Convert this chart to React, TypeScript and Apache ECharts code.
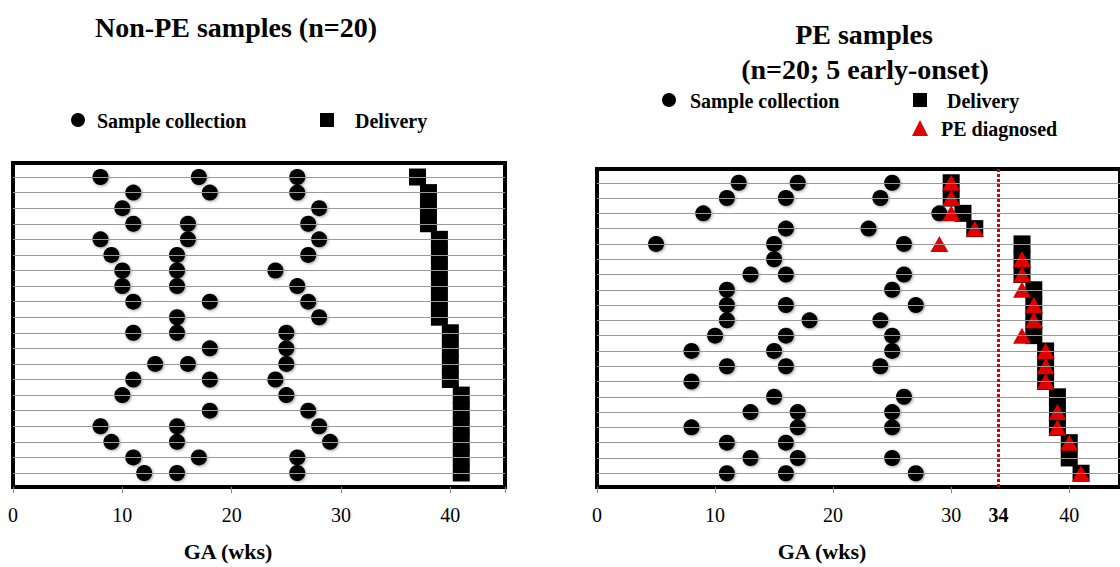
import { useEffect, useRef } from "react";
import * as echarts from "echarts";

// GA (weeks) of sample collections per subject row (row 1 = top)
const nonPeCollection = [
  [8, 17, 26], [11, 18, 26], [10, 28], [11, 16, 27], [8, 16, 28],
  [9, 15, 27], [10, 15, 24], [10, 15, 26], [11, 18, 27], [15, 28],
  [11, 15, 25], [18, 25], [13, 16, 25], [11, 18, 24], [10, 25],
  [18, 27], [8, 15, 28], [9, 15, 29], [11, 17, 26], [12, 15, 26],
];
const nonPeDelivery = [37, 38, 38, 38, 39, 39, 39, 39, 39, 39, 40, 40, 40, 40, 41, 41, 41, 41, 41, 41];

const peCollection = [
  [12, 17, 25], [11, 16, 24], [9, 29], [16, 23], [5, 15, 26],
  [15], [13, 16, 26], [11, 25], [11, 16, 27], [11, 18, 24],
  [10, 16, 25], [8, 15, 25], [11, 16, 24], [8], [15, 26],
  [13, 17, 25], [8, 17, 25], [11, 16], [13, 17, 25], [11, 16, 27],
];
const peDelivery = [30, 30, 31, 32, 36, 36, 36, 37, 37, 37, 37, 38, 38, 38, 39, 39, 39, 40, 40, 41];
// null = not shown in that row
const peDiagnosed = [30, 30, 30, 32, 29, 36, 36, 36, 37, 37, 36, 38, 38, 38, null, 39, 39, 40, null, 41];

const cutoff = 34;
const rows = Array.from({ length: 20 }, (_, i) => i + 1);
const font = "Liberation Serif";

const toPoints = (list: number[][]) => list.flatMap((wks, i) => wks.map((w) => [w, i + 1]));
const rowPoints = (list: (number | null)[]) =>
  list.map((w, i) => (w == null ? null : [w, i + 1])).filter(Boolean);

const label = (text: string, x: number, y: number, size: number, align = "left") => ({
  type: "text", x, y,
  style: { text, font: `bold ${size}px ${font}`, fill: "#000", align, verticalAlign: "middle" },
});

export default function App() {
  const ref = useRef<HTMLDivElement>(null);
  useEffect(() => {
    if (!ref.current) return;
    const chart = echarts.init(ref.current, null, { renderer: "svg" });
    const gridLines = {
      silent: true,
      symbol: "none",
      label: { show: false },
      lineStyle: { color: "#999", width: 1, type: "solid" },
      data: rows.map((r) => ({ yAxis: r })),
    };
    const dot = { type: "scatter", symbol: "circle", symbolSize: 16, itemStyle: { color: "#000", opacity: 1, shadowBlur: 3, shadowColor: "rgba(0,0,0,0.4)", shadowOffsetX: 1, shadowOffsetY: 1 }, z: 3 };
    const sq = { type: "scatter", symbol: "rect", symbolSize: [17, 17], itemStyle: { color: "#000", opacity: 1 }, z: 2 };
    const axisX = (idx: number, custom: number[] | null) => ({
      gridIndex: idx,
      type: "value",
      min: 0,
      max: idx === 0 ? 45 : 44.3,
      interval: 10,
      splitLine: { show: false },
      axisLine: { show: true, lineStyle: { color: "#000", width: 3 } },
      axisTick: { show: true, length: 6, lineStyle: { color: "#888" }, ...(custom ? { customValues: [0, 10, 20, 30, 40] } : {}) },
      axisLabel: {
        color: "#000", fontFamily: font, fontSize: 20, margin: 18,
        ...(custom
          ? { customValues: custom, formatter: (v: number) => (v === cutoff ? "{b|34}" : String(v)), rich: { b: { fontWeight: "bold", fontSize: 20, fontFamily: font } } }
          : { formatter: (v: number) => (v > 40 ? "" : String(v)) }),
      },
    });
    const axisY = (idx: number) => ({
      gridIndex: idx, type: "value", min: 0.1, max: 20.9, inverse: true, show: false,
    });
    chart.setOption({
      animation: false,
      grid: [
        { left: 13, top: 163, width: 492, height: 324, show: true, borderColor: "#000", borderWidth: 4, backgroundColor: "#fff" },
        { left: 597, top: 169, right: 0, height: 318, show: true, borderColor: "#000", borderWidth: 4, backgroundColor: "#fff" },
      ],
      xAxis: [axisX(0, null), axisX(1, [0, 10, 20, 30, 34, 40])],
      yAxis: [axisY(0), axisY(1)],
      series: [
        { ...dot, xAxisIndex: 0, yAxisIndex: 0, data: toPoints(nonPeCollection), markLine: gridLines },
        { ...sq, xAxisIndex: 0, yAxisIndex: 0, data: nonPeDelivery.map((w, i) => [w, i + 1]) },
        {
          ...dot, xAxisIndex: 1, yAxisIndex: 1, data: toPoints(peCollection),
          markLine: {
            ...gridLines,
            data: [
              ...rows.map((r) => ({ yAxis: r })),
              { xAxis: cutoff, lineStyle: { color: "#d40000", width: 3, type: [3, 2] } },
            ],
          },
        },
        { ...sq, xAxisIndex: 1, yAxisIndex: 1, data: peDelivery.map((w, i) => [w, i + 1]) },
        { type: "scatter", xAxisIndex: 1, yAxisIndex: 1, symbol: "triangle", symbolSize: [18, 16], itemStyle: { color: "#e00000", opacity: 1 }, z: 4, data: rowPoints(peDiagnosed) },
      ],
      graphic: [
        label("Non-PE samples (n=20)", 236, 27, 28, "center"),
        { type: "circle", shape: { cx: 78, cy: 120, r: 7 }, style: { fill: "#000" } },
        label("Sample collection", 97, 121, 20),
        { type: "rect", shape: { x: 320, y: 113, width: 14, height: 14 }, style: { fill: "#000" } },
        label("Delivery", 355, 121, 20),
        label("PE samples", 864, 34, 28, "center"),
        label("(n=20; 5 early-onset)", 865, 69, 28, "center"),
        { type: "circle", shape: { cx: 669, cy: 100, r: 7 }, style: { fill: "#000" } },
        label("Sample collection", 690, 101, 20),
        { type: "rect", shape: { x: 913, y: 93, width: 14, height: 14 }, style: { fill: "#000" } },
        label("Delivery", 947, 101, 20),
        { type: "polygon", shape: { points: [[920, 120], [912, 136], [928, 136]] }, style: { fill: "#e00000" } },
        label("PE diagnosed", 941, 129, 20),
        label("GA (wks)", 228, 551, 22, "center"),
        label("GA (wks)", 822, 551, 22, "center"),
      ],
    });
    return () => chart.dispose();
  }, []);
  return <div ref={ref} style={{ position: "absolute", left: 0, top: 0, width: 1120, height: 567, background: "#fff" }} />;
}
